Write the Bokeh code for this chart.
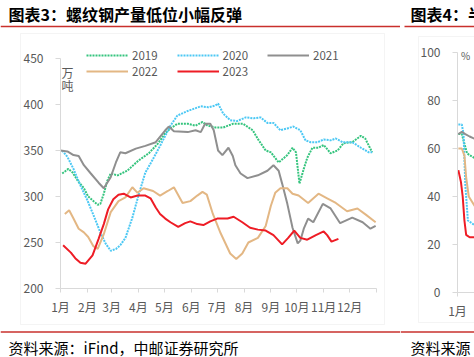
from bokeh.plotting import figure
from bokeh.models import Label, BoxAnnotation, Legend, LegendItem, FixedTicker, Range1d
from bokeh.layouts import row
from bokeh.embed import file_html
from bokeh.resources import INLINE

# ---------------- data (left chart: 螺纹钢产量, 万吨, by day of year) ----------------
month_starts = [0, 31, 59, 90, 120, 151, 181, 212, 243, 273, 304, 334, 365]
month_labels = ["1月", "2月", "3月", "4月", "5月", "6月", "7月", "8月", "9月", "10月", "11月", "12月", ""]
y_ticks = [200, 250, 300, 350, 400, 450]

days_2019 = [2, 9, 14, 20, 27, 32, 38, 43, 46, 50, 54, 58, 66, 77, 90, 102, 113, 121, 127, 135,
             147, 156, 164, 170, 179, 188, 199, 211, 222, 229, 237, 243, 252, 262, 268, 272, 276, 281, 285, 291,
             298, 304, 312, 320, 327, 337, 347, 352, 360]
vals_2019 = [325, 330, 326, 317, 309, 300, 295, 291, 292, 303, 317, 325, 323, 328, 339, 347, 358, 369, 374, 379,
             379, 377, 381, 377, 375, 375, 379, 379, 372, 361, 350, 348, 337, 345, 353, 348, 314, 330, 342, 353,
             353, 356, 347, 350, 358, 359, 366, 363, 348]

days_2020 = [2, 8, 15, 23, 31, 38, 46, 52, 58, 64, 69, 75, 83, 90, 98, 107, 115, 121, 127, 135,
             147, 162, 171, 179, 182, 188, 196, 204, 214, 223, 231, 239, 246, 254, 262, 269, 277, 283, 289, 297,
             304, 312, 318, 326, 337, 347, 356, 360]
vals_2020 = [350, 343, 330, 312, 296, 280, 261, 249, 241, 243, 247, 255, 277, 301, 326, 341, 355, 366, 377, 388,
             393, 398, 397, 399, 401, 390, 383, 382, 386, 385, 386, 380, 380, 372, 374, 376, 372, 361, 359, 359,
             362, 361, 363, 359, 359, 353, 348, 348]

days_2021 = [0, 8, 15, 21, 27, 35, 44, 50, 58, 64, 69, 75, 87, 98, 110, 121, 125, 131, 147, 156,
             162, 167, 173, 177, 182, 187, 194, 199, 202, 208, 216, 228, 239, 246, 252, 256, 262, 268, 274, 277,
             281, 286, 292, 303, 312, 323, 337, 349, 358, 364]
vals_2021 = [350, 349, 345, 344, 334, 325, 315, 309, 321, 337, 348, 347, 352, 355, 359, 372, 376, 371, 370, 372,
             370, 379, 379, 372, 350, 345, 353, 344, 334, 325, 320, 323, 328, 334, 328, 314, 292, 266, 249, 252,
             265, 276, 272, 292, 287, 271, 277, 272, 265, 268]

days_2022 = [5, 10, 15, 21, 27, 32, 38, 43, 50, 58, 67, 75, 83, 89, 96, 107, 115, 124, 131, 141,
             150, 158, 164, 169, 176, 185, 196, 203, 210, 217, 228, 237, 243, 248, 254, 262, 268, 275, 286, 298,
             308, 318, 331, 343, 353, 364]
vals_2022 = [281, 285, 276, 265, 261, 256, 246, 243, 259, 283, 295, 299, 310, 304, 309, 306, 301, 306, 310, 293,
             295, 301, 305, 302, 281, 260, 238, 232, 238, 250, 255, 268, 290, 304, 309, 309, 303, 301, 293, 303,
             298, 293, 284, 287, 280, 272]

days_2023 = [3, 12, 17, 23, 29, 37, 44, 50, 55, 61, 67, 73, 81, 89, 98, 104, 110, 115, 121, 127,
             136, 144, 150, 158, 165, 173, 181, 193, 200, 210, 219, 228, 237, 246, 256, 263, 270, 277, 285, 295,
             304, 308, 313, 321]
vals_2023 = [247, 239, 233, 228, 227, 236, 254, 270, 286, 297, 302, 303, 299, 301, 301, 298, 288, 281, 276, 272,
             267, 271, 273, 270, 269, 273, 276, 276, 278, 272, 266, 264, 263, 258, 248, 255, 263, 255, 253, 258,
             262, 258, 251, 254]

# ---------------- data (right chart, partly visible: %) ----------------
r_ticks = [0, 20, 40, 60, 80, 100]
r_days_2019 = [1, 5, 8, 11, 15, 20]
r_vals_2019 = [66, 66, 62, 58, 57, 56]
r_days_2020 = [1, 5, 7, 9, 12, 20]
r_vals_2020 = [70, 70, 66, 45, 30, 28]
r_days_2021 = [1, 5, 9, 14, 20]
r_vals_2021 = [66, 67, 66, 65, 64]
r_days_2022 = [1, 5, 8, 10, 13, 20]
r_vals_2022 = [60, 60, 57, 48, 40, 36]
r_days_2023 = [1, 4, 6, 8, 10, 14, 20]
r_vals_2023 = [51, 46, 40, 30, 24, 23, 23]

C19, C20, C21, C22, C23 = "#35c47e", "#4cc8f4", "#8f8f8f", "#e3b784", "#ee1c25"
GRAY_TXT = "#595959"
AX = "#d9d9d9"
RED = "#c9302c"
FONT = "Noto Sans CJK SC"
H = 357


def make_fig(width, px_left, px_per_x, y_top_px, y_top_val, px_per_y, yb, xb):
    # the frame fills the whole canvas; axes are pinned with fixed_location
    x0 = -px_left / px_per_x
    x1 = (width - px_left) / px_per_x
    y1 = y_top_val + y_top_px / px_per_y
    y0 = y_top_val - (H - y_top_px) / px_per_y
    p = figure(width=width, height=H, x_range=Range1d(x0, x1), y_range=Range1d(y0, y1),
               output_backend="svg", toolbar_location=None,
               min_border_left=0, min_border_right=0, min_border_top=0, min_border_bottom=0)
    p.background_fill_color = "white"
    p.border_fill_color = "white"
    p.grid.visible = False
    p.outline_line_color = None
    p.xaxis.fixed_location = yb[0]
    p.yaxis.fixed_location = xb[0]
    p.xaxis.bounds = xb
    p.yaxis.bounds = yb
    return p


def style_axes(p, yticks, xticks, xlabels):
    for ax in (p.xaxis[0], p.yaxis[0]):
        ax.axis_line_color = AX
        ax.major_tick_line_color = AX
        ax.minor_tick_line_color = None
        ax.major_tick_in = 0
        ax.major_label_text_font = FONT
        ax.major_label_text_font_size = "12px"
        ax.major_label_text_color = GRAY_TXT
    p.yaxis[0].ticker = FixedTicker(ticks=yticks)
    p.yaxis[0].major_tick_out = 5
    p.yaxis[0].major_label_standoff = 12
    p.xaxis[0].ticker = FixedTicker(ticks=xticks)
    p.xaxis[0].major_label_overrides = {t: l for t, l in zip(xticks, xlabels)}
    p.xaxis[0].major_tick_out = 4
    p.xaxis[0].major_label_standoff = 5


def slab(p, text, X, Y, size="12px", color=GRAY_TXT, bold=False, align="left"):
    p.add_layout(Label(x=X, y=H - Y, x_units="screen", y_units="screen", text=text,
                       text_font=FONT, text_font_size=size, text_color=color,
                       text_font_style="bold" if bold else "normal",
                       text_align=align, text_baseline="middle"))


def sbox(p, X0, X1, Y0, Y1, fill=None, line=None):
    p.add_layout(BoxAnnotation(left=X0, right=X1, top=H - Y0, bottom=H - Y1,
                               left_units="screen", right_units="screen",
                               top_units="screen", bottom_units="screen",
                               fill_color=fill, fill_alpha=1.0 if fill else 0.0,
                               line_color=line, line_width=1, level="annotation"))


# ---------------- left figure ----------------
p = make_fig(400, 60, 316 / 365, 58, 450, 230 / 250, (200, 450), (0, 365))
style_axes(p, y_ticks, month_starts, month_labels)

sbox(p, 20, 384, 33, 324, line=AX)

r19 = p.line(days_2019, vals_2019, line_color=C19, line_width=2, line_dash="2 1")
r20 = p.line(days_2020, vals_2020, line_color=C20, line_width=2, line_dash="2 1")
r21 = p.line(days_2021, vals_2021, line_color=C21, line_width=2)
r22 = p.line(days_2022, vals_2022, line_color=C22, line_width=2)
r23 = p.line(days_2023, vals_2023, line_color=C23, line_width=2)

leg_kw = dict(orientation="horizontal", glyph_width=42, glyph_height=12, label_height=12,
              label_standoff=4, spacing=19, padding=0, margin=0, border_line_color=None,
              background_fill_alpha=0, label_text_font=FONT, label_text_font_size="11.5px",
              label_text_color=GRAY_TXT, label_text_line_height=1.0)
leg1 = Legend(items=[LegendItem(label="2019", renderers=[r19]),
                     LegendItem(label="2020", renderers=[r20]),
                     LegendItem(label="2021", renderers=[r21])], location=(86, H - 63), **leg_kw)
leg2 = Legend(items=[LegendItem(label="2022", renderers=[r22]),
                     LegendItem(label="2023", renderers=[r23])], location=(86, H - 78.5), **leg_kw)
p.add_layout(leg1)
p.add_layout(leg2)

slab(p, "万", 67, 72, align="center")
slab(p, "吨", 67, 85, align="center")
slab(p, "图表3：螺纹钢产量低位小幅反弹", 8, 13, size="16px", color="#000000", bold=True)
slab(p, "资料来源：iFind，中邮证券研究所", 8, 347, size="15px", color="#000000")
sbox(p, 0, 400, 25.2, 26.8, fill=RED)
sbox(p, 0, 400, 330.8, 332.3, fill=RED)

# ---------------- right figure (partly visible) ----------------
q = make_fig(74, 57, 316 / 365, 52, 100, 240 / 100, (0, 100), (0, 365))
style_axes(q, r_ticks, [0, 31], ["1月", "2月"])

sbox(q, 18, 200, 36, 322, line=AX)

q.line(r_days_2019, r_vals_2019, line_color=C19, line_width=2, line_dash="2 1")
q.line(r_days_2020, r_vals_2020, line_color=C20, line_width=2, line_dash="2 1")
q.line(r_days_2021, r_vals_2021, line_color=C21, line_width=2)
q.line(r_days_2022, r_vals_2022, line_color=C22, line_width=2)
q.line(r_days_2023, r_vals_2023, line_color=C23, line_width=2)

slab(q, "%", 65, 55, size="10px", align="center")
slab(q, "图表4：半", 10, 13, size="16px", color="#000000", bold=True)
slab(q, "资料来源", 10, 347, size="15px", color="#000000")
sbox(q, 4, 74, 25.2, 26.8, fill=RED)
sbox(q, 0, 74, 330.8, 332.3, fill=RED)

layout = row(p, q)
open("out.html", "w").write(file_html(layout, INLINE))
